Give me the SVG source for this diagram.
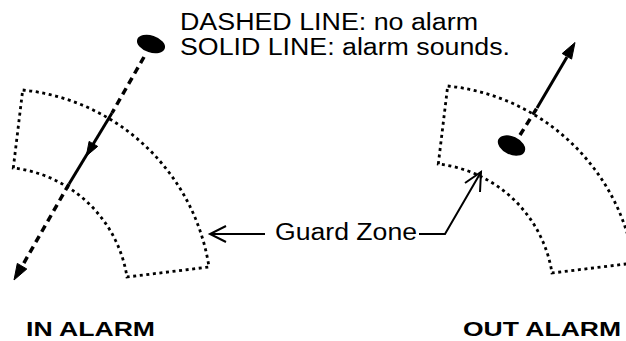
<svg xmlns="http://www.w3.org/2000/svg" width="626" height="341" viewBox="0 0 626 341">
<defs>
<style>
.zone{fill:none;stroke:#000;stroke-width:2.8;stroke-dasharray:3 3.6}
.dash{fill:none;stroke:#000;stroke-width:3.5;stroke-dasharray:7 5}
.solid{fill:none;stroke:#000;stroke-width:3}
.thin{fill:none;stroke:#000;stroke-width:2}
.head{fill:#000;stroke:#000;stroke-width:1}
.blob{fill:#000}
.t{font-family:"Liberation Sans",Arial,sans-serif;font-size:23px;fill:#000}
.b{font-family:"Liberation Sans",Arial,sans-serif;font-size:21px;font-weight:bold;fill:#000}
</style>
<path id="zoneShape" d="M22.7,90 A210,210 0 0 1 209,267 L127,277 A130,130 0 0 0 13.3,168 Z"/>
</defs>
<rect width="626" height="341" fill="#fff"/>
<g id="zone-in">
<use href="#zoneShape" class="zone"/>
</g>
<g id="zone-out">
<use href="#zoneShape" class="zone" transform="translate(425,-4)"/>
</g>
<g id="target-in">
<ellipse class="blob" cx="151" cy="44" rx="14.5" ry="8.5" transform="rotate(18 151 44)"/>
</g>
<g id="target-out">
<ellipse class="blob" cx="511.5" cy="145.5" rx="14.5" ry="9" transform="rotate(25 511.5 145.5)"/>
</g>
<g id="connectors">
<line class="dash" x1="144" y1="57" x2="112" y2="113"/>
<line class="solid" x1="112" y1="113" x2="69" y2="184"/>
<polygon class="head" points="86.3,156 97.7,146.4 89.1,141.4"/>
<line class="dash" x1="69" y1="184" x2="21" y2="268"/>
<polygon class="head" points="14,280 26.8,269 17.3,263.4"/>
<line class="dash" x1="520" y1="135" x2="537" y2="108"/>
<line class="solid" x1="537" y1="108" x2="567" y2="57"/>
<polygon class="head" points="575,42.5 571.6,59.1 562.2,53.5"/>
<polyline class="thin" points="265,234 211,234"/>
<polyline class="thin" points="226,226 210,234 226,242"/>
<polyline class="thin" points="419,234 445,234 481,172"/>
<polyline class="thin" points="465,183 481,172 480,192"/>
</g>
<g id="labels">
<text class="t" x="180" y="30" textLength="298" lengthAdjust="spacingAndGlyphs">DASHED LINE: no alarm</text>
<text class="t" x="180" y="55" textLength="330" lengthAdjust="spacingAndGlyphs">SOLID LINE: alarm sounds.</text>
<text class="t" x="275" y="240" font-size="22" textLength="142" lengthAdjust="spacingAndGlyphs">Guard Zone</text>
<text class="b" x="26" y="336" textLength="129" lengthAdjust="spacingAndGlyphs">IN ALARM</text>
<text class="b" x="463" y="336" textLength="158" lengthAdjust="spacingAndGlyphs">OUT ALARM</text>
</g>
</svg>
